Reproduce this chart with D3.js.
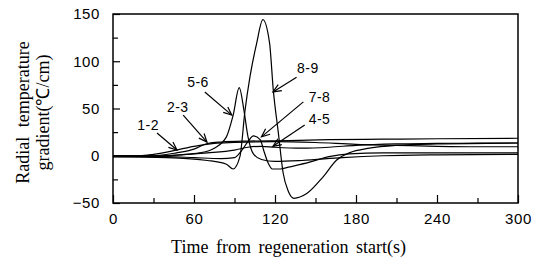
<!DOCTYPE html>
<html>
<head>
<meta charset="utf-8">
<script src="https://cdn.jsdelivr.net/npm/d3@7/dist/d3.min.js"></script>
<style>
  body { margin: 0; background: #fff; }
</style>
</head>
<body>
<svg id="chart"></svg>
<script>
// data: [time (s), gradient (C/cm)]
const s12 = [[0,0],[20,0],[30,1.5],[47,6],[60,10],[75,13],[90,14],[120,15],[150,14],[180,12],[210,11],[240,10],[270,9.5],[300,9.5]];
const s23 = [[0,0],[30,0],[47,3],[60,7],[70,13],[80,14.5],[100,15.5],[130,16],[160,17],[200,17.5],[240,18],[300,18.5]];
const s45 = [[0,0],[30,0],[50,1],[70,3],[90,6],[100,9],[110,10],[120,9],[140,8],[160,9],[180,11],[210,12.5],[240,13],[270,13.5],[300,13.5]];
const s56 = [[0,-1],[40,0],[50,1],[64,3],[75,8],[84,20],[89,43],[93.5,72],[97,48],[100,20],[104,2],[110,-4],[120,-6],[140,-5],[170,-2],[200,0],[240,1],[300,1.5]];
const s78 = [[0,-1],[40,-1],[60,-2],[80,-3],[90,-2],[95,5],[100,15],[104,21],[109,17],[112,4],[115,-8],[118,-14],[124,-14],[130,-12],[145,-7],[160,-1],[175,2],[200,3],[240,3],[300,3]];
const s89 = [[0,-1],[40,-2],[70,-5],[84,-9],[89,-14],[94,-1],[97.8,48],[101.5,84],[106.4,119],[111,144],[116,119],[118.7,70],[122.5,24],[126,-18],[130,-38],[134,-45],[143.5,-40],[155.8,-22],[165.7,-4.5],[175,3],[190,8],[210,11],[240,12.5],[300,13.5]];
const seriesList = [s12, s23, s45, s56, s78, s89];

// labels: text, label position, arrow start, arrow tip (data units)
const labelNames = ["1-2", "2-3", "5-6", "8-9", "7-8", "4-5"];
const labelPos   = [[26,32.5],[48,51.6],[63,78],[144.4,93],[153,62],[153,38.8]];
const arrowFrom  = [[32.6,24],[52,43],[68,67.5],[136,83],[141,57],[142,32.5]];
const arrowTip   = [[47.4,6],[69.6,14.5],[88,43],[118.5,67.5],[110,20],[118.5,10]];

const xMajor = [0, 60, 120, 180, 240, 300];
const xMinor = [30, 90, 150, 210, 270];
const yMajor = [-50, 0, 50, 100, 150];
const yMinor = [-25, 25, 75, 125];

const margin = {top: 14, right: 25, bottom: 61, left: 113};
const width = 405;
const height = 189;

const svg = d3.select('#chart')
    .attr('width', width + margin.left + margin.right)
    .attr('height', height + margin.top + margin.bottom)
    .append('g')
    .attr('transform', 'translate(' + margin.left + ',' + margin.top + ')');

const x = d3.scaleLinear().domain([0, 300]).range([0, width]);
const y = d3.scaleLinear().domain([-50, 150]).range([height, 0]);

// x axis, ticks pointing inward
const xAxis = svg.append('g')
    .attr('transform', 'translate(0,' + height + ')')
    .call(d3.axisBottom(x).tickValues(xMajor).tickSize(-8).tickPadding(10));
svg.append('g')
    .attr('transform', 'translate(0,' + height + ')')
    .call(d3.axisBottom(x).tickValues(xMinor).tickSize(-5).tickFormat(''));

// y axis
const yAxis = svg.append('g')
    .call(d3.axisLeft(y).tickValues(yMajor).tickSize(-7).tickPadding(13));
svg.append('g')
    .call(d3.axisLeft(y).tickValues(yMinor).tickSize(-5).tickFormat(''));

svg.selectAll('.domain').remove();
svg.selectAll('.tick line').attr('stroke', '#000').attr('stroke-width', 1.2);
svg.selectAll('.tick text')
    .attr('fill', '#000')
    .style('font-family', '"Liberation Sans", Arial, sans-serif')
    .style('font-size', '15px');
xAxis.selectAll('.tick text').attr('letter-spacing', '0.6px');
yAxis.selectAll('.tick text').attr('letter-spacing', '0.6px');

// frame
svg.append('rect')
    .attr('x', 0).attr('y', 0)
    .attr('width', width).attr('height', height)
    .attr('fill', 'none')
    .attr('stroke', '#000')
    .attr('stroke-width', 1.5);

// curves
const line = d3.line()
    .x(d => x(d[0]))
    .y(d => y(d[1]))
    .curve(d3.curveMonotoneX);

svg.selectAll('path.curve')
    .data(seriesList)
    .enter()
    .append('path')
    .attr('class', 'curve')
    .attr('d', line)
    .attr('fill', 'none')
    .attr('stroke', '#000')
    .attr('stroke-width', 1.2);

// arrows with open heads
labelNames.forEach(function(name, i) {
  const x0 = x(arrowFrom[i][0]), y0 = y(arrowFrom[i][1]);
  const x1 = x(arrowTip[i][0]), y1 = y(arrowTip[i][1]);
  const ang = Math.atan2(y1 - y0, x1 - x0);
  const len = 9, spread = 0.4;
  svg.append('line')
      .attr('x1', x0).attr('y1', y0).attr('x2', x1).attr('y2', y1)
      .attr('stroke', '#000').attr('stroke-width', 1.2);
  svg.append('path')
      .attr('d', 'M' + (x1 - len * Math.cos(ang - spread)) + ',' + (y1 - len * Math.sin(ang - spread)) +
                 'L' + x1 + ',' + y1 +
                 'L' + (x1 - len * Math.cos(ang + spread)) + ',' + (y1 - len * Math.sin(ang + spread)))
      .attr('fill', 'none').attr('stroke', '#000').attr('stroke-width', 1.2);
  svg.append('text')
      .attr('x', x(labelPos[i][0]))
      .attr('y', y(labelPos[i][1]))
      .attr('text-anchor', 'middle')
      .attr('dominant-baseline', 'central')
      .attr('letter-spacing', '0.5px')
      .style('font-family', '"Liberation Sans", Arial, sans-serif')
      .style('font-size', '14px')
      .text(name);
});

// axis titles
svg.append('text')
    .attr('x', width / 2 - 27)
    .attr('y', height + 50)
    .attr('text-anchor', 'middle')
    .attr('word-spacing', '3px')
    .style('font-family', '"Liberation Serif", "Times New Roman", serif')
    .style('font-size', '18px')
    .text('Time from regeneration start(s)');

const yTitle = svg.append('text')
    .attr('transform', 'translate(' + (-84) + ',' + (height / 2 + 4) + ') rotate(-90)')
    .attr('text-anchor', 'middle')
    .style('font-family', '"Liberation Serif", "Times New Roman", serif')
    .style('font-size', '18px');
yTitle.append('tspan').attr('x', 0).attr('dy', 0).attr('word-spacing', '5px').text('Radial temperature');
yTitle.append('tspan').attr('x', 0).attr('dy', '1.1em').text('gradient(℃/cm)');
</script>
</body>
</html>
